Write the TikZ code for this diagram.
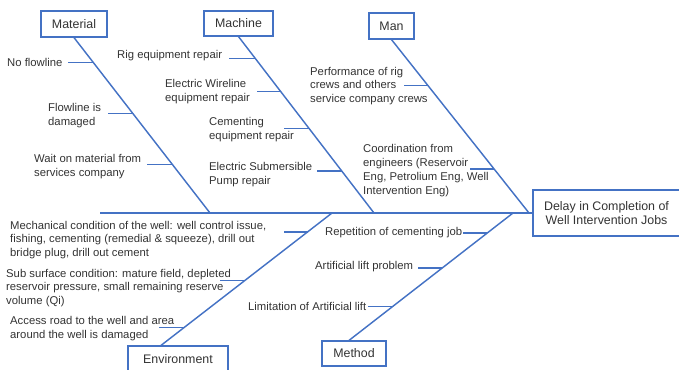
\documentclass[tikz,border=0pt]{standalone}
\usepackage{fontspec}
\setmainfont{Liberation Sans}
\usetikzlibrary{calc}
\definecolor{boneblue}{HTML}{4472C4}
\definecolor{txtgray}{HTML}{333333}

\begin{document}
\begin{tikzpicture}[x=1pt,y=-1pt]
    \useasboundingbox (0,0) rectangle (679,369);

    \tikzset{catbox/.style={draw=boneblue,line width=1.2pt,fill=white,text=txtgray,inner sep=0pt,align=center,font=\fontsize{12.4}{14.5}\selectfont}}
    \tikzset{cause/.style={anchor=west,inner sep=0pt,text=txtgray,align=left,font=\fontsize{11.3}{13.9}\selectfont}}
    \tikzset{bone/.style={boneblue,line width=1.45pt}}

    % categories and effect
    \node[catbox,minimum width=66,minimum height=26] (mat) at (74,24) {Material};
    \node[catbox,minimum width=69,minimum height=25] (mach) at (238.5,23.5) {Machine};
    \node[catbox,minimum width=45,minimum height=26] (man) at (391.5,26) {Man};
    \node[catbox,minimum width=100,minimum height=26] (env) at (178,359) {Environment};
    \node[catbox,minimum width=64,minimum height=25] (meth) at (354,353.5) {Method};
    \node[catbox,minimum width=147,minimum height=46] (eff) at (606.5,213) {Delay in Completion of\\Well Intervention Jobs};

    % spine
    \coordinate (sTail) at (100,213);
    \coordinate (sMat) at (210,213);
    \coordinate (sEnv) at (332,213);
    \coordinate (sMach) at (374,213);
    \coordinate (sMeth) at (513,213);
    \coordinate (sHead) at (529,213);
    \draw[bone] (sTail) -- (eff.west);

    % bones, with the points where the twigs meet them
    \draw[bone] (mat.south) -- coordinate[pos=.142] (m1) coordinate[pos=.432] (m2) coordinate[pos=.722] (m3) (sMat);
    \draw[bone] (mach.south) -- coordinate[pos=.124] (c1) coordinate[pos=.311] (c2) coordinate[pos=.520] (c3) coordinate[pos=.763] (c4) (sMach);
    \draw[bone] (man.south) -- coordinate[pos=.264] (p1) coordinate[pos=.747] (p2) (sHead);
    \draw[bone] ([xshift=-17pt]env.north) -- coordinate[pos=.135] (e3) coordinate[pos=.489] (e2) coordinate[pos=.857] (e1) (sEnv);
    \draw[bone] ([xshift=-5pt]meth.north) -- coordinate[pos=.266] (t3) coordinate[pos=.570] (t2) coordinate[pos=.844] (t1) (sMeth);

    % twigs
    \draw[bone] (m1) -- ++(-25,0);
    \draw[bone] (m2) -- ++(-25,0);
    \draw[bone] (m3) -- ++(-25,0);
    \draw[bone] (c1) -- ++(-26,0);
    \draw[bone] (c2) -- ++(-24,0);
    \draw[bone] (c3) -- ++(-25,0);
    \draw[bone] (c4) -- ++(-25,0);
    \draw[bone] (p1) -- ++(-24,0);
    \draw[bone] (p2) -- ++(-24,0);
    \draw[bone] (e1) -- ++(-24,0);
    \draw[bone] (e2) -- ++(-25,0);
    \draw[bone] (e3) -- ++(-25,0);
    \draw[bone] (t1) -- ++(-24,0);
    \draw[bone] (t2) -- ++(-24,0);
    \draw[bone] (t3) -- ++(-25,0);

    % Material causes
    \node[cause] (noflow) at (7,62) {No flowline};
    \node[cause] (flowdmg) at (48,116) {Flowline is\\damaged};
    \node[cause] (waitmat) at (34,167) {Wait on material from\\services company};

    % Machine causes
    \node[cause] (rigrep) at (117,56) {Rig equipment repair};
    \node[cause] (ewlrep) at (165,92) {Electric Wireline\\equipment repair};
    \node[cause] (cemrep) at (209,130) {Cementing\\equipment repair};
    \node[cause] (esprep) at (209,174.5) {Electric Submersible\\Pump repair};

    % Man causes
    \node[cause] (crews) at (310,86) {Performance of rig\\crews and others\\service company crews};
    \node[cause] (coord) at (363,170.5) {Coordination from\\engineers (Reservoir\\Eng, Petrolium Eng, Well\\Intervention Eng)};

    % Environment causes
    \node[cause] (mechcond) at (10,240) {Mechanical condition of the well: well control issue,\\fishing, cementing (remedial \& squeeze), drill out\\bridge plug, drill out cement};
    \node[cause] (subsurf) at (6,288) {Sub surface condition: mature field, depleted\\reservoir pressure, small remaining reserve\\volume (Qi)};
    \node[cause] (access) at (10,329) {Access road to the well and area\\around the well is damaged};

    % Method causes
    \node[cause] (repcem) at (325,233) {Repetition of cementing job};
    \node[cause] (alprob) at (315,267) {Artificial lift problem};
    \node[cause] (allim) at (248,306) {Limitation of Artificial lift};

\end{tikzpicture}
\end{document}
